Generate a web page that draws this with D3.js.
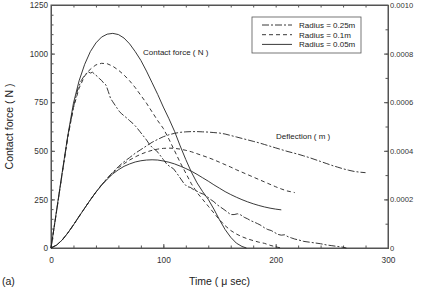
<!DOCTYPE html>
<html>
<head>
<meta charset="utf-8">
<script src="https://cdn.jsdelivr.net/npm/d3@7"></script>
<style>
body { margin: 0; background: #fff; }
svg { display: block; font-family: "Liberation Sans", Arial, sans-serif; }
.axis path, .axis line { stroke: #555; }
.axis text { fill: #333; }
</style>
</head>
<body>
<div id="chart"></div>
<script>
var windowW = 421;
var windowH = 288;

var margin = {top: 5, right: 33, bottom: 40, left: 51};
var w = windowW - margin.left - margin.right;
var h = windowH - margin.top - margin.bottom;

// contact force, N  [time us, force]
var force005 = [[0,0],[5,195],[10,390],[15,580],[20,745],[25,860],[30,945],[35,1010],[40,1055],[45,1085],[50,1100],[55,1104],[60,1098],[65,1080],[70,1050],[75,1010],[80,965],[85,910],[90,850],[95,790],[100,725],[105,665],[110,600],[115,525],[120,455],[125,390],[130,335],[135,290],[140,250],[145,200],[150,145],[155,95],[160,55],[165,25],[170,8],[174,0]];
var force01 = [[0,0],[5,190],[10,385],[15,570],[20,722],[25,822],[30,885],[35,920],[40,942],[45,950],[50,948],[55,935],[60,915],[65,890],[70,860],[75,825],[80,785],[85,745],[90,700],[95,655],[100,615],[105,560],[110,500],[115,440],[120,385],[125,330],[130,285],[135,250],[140,215],[145,180],[150,145],[155,115],[160,90],[165,72],[170,58],[175,47],[180,38],[185,30],[190,24],[195,14],[200,6],[205,0]];
var force025 = [[0,0],[5,190],[10,385],[15,575],[20,725],[24,820],[27,862],[29,880],[31,895],[33,907],[35,900],[37,904],[39,893],[41,884],[43,872],[45,862],[47,848],[49,838],[51,805],[53,770],[55,752],[57,735],[59,718],[61,701],[63,690],[65,680],[68,666],[70,655],[73,640],[76,622],[79,600],[82,578],[85,556],[88,530],[91,512],[94,500],[97,478],[100,455],[103,432],[106,418],[109,408],[112,385],[115,360],[118,335],[121,316],[124,312],[127,300],[130,292],[133,283],[136,276],[139,264],[142,250],[145,238],[148,222],[151,210],[154,198],[157,185],[160,172],[163,172],[166,176],[169,170],[172,158],[175,150],[178,140],[181,133],[184,125],[187,116],[190,104],[193,95],[196,90],[199,80],[202,70],[205,66],[208,68],[211,58],[214,52],[217,46],[220,42],[225,34],[230,30],[235,26],[240,22],[245,16],[250,12],[255,8],[260,4],[263,0]];

// deflection, m  [time us, deflection]
var defl005 = [[0,0],[5,0.000012],[10,0.000033],[15,0.000062],[20,0.000095],[25,0.00013],[30,0.000164],[35,0.000198],[40,0.00023],[45,0.000258],[50,0.000283],[55,0.000305],[60,0.000322],[65,0.000336],[70,0.000346],[75,0.000354],[80,0.000359],[85,0.000362],[90,0.000363],[95,0.000362],[100,0.000358],[105,0.000353],[110,0.000346],[115,0.000337],[120,0.000327],[125,0.000316],[130,0.000303],[135,0.000289],[140,0.000275],[145,0.00026],[150,0.000246],[155,0.000232],[160,0.00022],[165,0.000209],[170,0.000199],[175,0.00019],[180,0.000182],[185,0.000175],[190,0.000169],[195,0.000164],[200,0.00016],[205,0.000157]];
var defl01 = [[0,0],[5,0.000012],[10,0.000033],[15,0.000062],[20,0.000095],[25,0.00013],[30,0.000164],[35,0.000198],[40,0.00023],[45,0.000259],[50,0.000285],[55,0.000309],[60,0.00033],[65,0.000347],[70,0.000362],[75,0.000375],[80,0.000386],[85,0.000395],[90,0.000402],[95,0.000407],[100,0.00041],[105,0.000411],[110,0.00041],[115,0.000407],[120,0.000402],[125,0.000396],[130,0.000388],[135,0.00038],[140,0.000372],[145,0.000363],[150,0.000353],[155,0.000343],[160,0.000333],[165,0.000322],[170,0.000312],[175,0.000302],[180,0.000292],[185,0.000282],[190,0.000272],[195,0.000262],[200,0.000252],[205,0.000243],[210,0.000235],[217,0.000228]];
var defl025 = [[0,0],[5,0.000012],[10,0.000033],[15,0.000062],[20,0.000095],[25,0.00013],[30,0.000164],[35,0.000198],[40,0.00023],[45,0.00026],[50,0.000287],[55,0.000312],[60,0.000335],[65,0.000355],[70,0.000372],[75,0.00039],[80,0.000405],[85,0.00042],[90,0.000435],[95,0.000447],[100,0.000458],[105,0.000466],[110,0.000472],[115,0.000476],[120,0.000478],[125,0.000479],[130,0.000479],[135,0.000478],[140,0.000477],[145,0.000475],[150,0.000473],[155,0.000469],[160,0.000463],[165,0.000457],[170,0.000451],[175,0.000445],[180,0.000439],[185,0.000433],[190,0.000426],[195,0.000419],[200,0.000412],[205,0.000405],[210,0.000398],[215,0.000392],[220,0.000386],[225,0.000379],[230,0.000372],[235,0.000364],[240,0.000356],[245,0.000348],[250,0.00034],[255,0.000333],[260,0.000326],[265,0.00032],[270,0.000315],[275,0.000312],[280,0.00031]];

var xTicks = [0, 100, 200, 300];
var yTicks = [0, 250, 500, 750, 1000, 1250];
var y2Ticks = [0, 0.0002, 0.0004, 0.0006, 0.0008, 0.0010];

var radii = ["Radius = 0.25m", "Radius = 0.1m", "Radius = 0.05m"];
var dashes = {"Radius = 0.25m": "7,2,2,2", "Radius = 0.1m": "4,3", "Radius = 0.05m": null};

var x = d3.scaleLinear().domain([0, 300]).range([0, w]);
var y = d3.scaleLinear().domain([0, 1250]).range([h, 0]);
var y2 = d3.scaleLinear().domain([0, 0.001]).range([h, 0]);

var svg = d3.select("#chart").append("svg")
	.attr("width", windowW)
	.attr("height", windowH);

var g = svg.append("g")
	.attr("transform", "translate(" + margin.left + "," + margin.top + ")");

//////// minor ticks (inward)
g.append("g").attr("class", "axis")
	.call(d3.axisBottom(x).tickValues(d3.range(0, 301, 20)).tickSize(-2.5).tickFormat(""))
	.attr("transform", "translate(0," + h + ")");
g.append("g").attr("class", "axis")
	.call(d3.axisTop(x).tickValues(d3.range(0, 301, 20)).tickSize(-2.5).tickFormat(""));
g.append("g").attr("class", "axis")
	.call(d3.axisLeft(y).tickValues(d3.range(0, 1251, 50)).tickSize(-2.5).tickFormat(""));
g.append("g").attr("class", "axis")
	.attr("transform", "translate(" + w + ",0)")
	.call(d3.axisRight(y2).tickValues(d3.range(0, 11).map(function(d) { return d * 0.0001; })).tickSize(-2.5).tickFormat(""));

//////// major axes
var xAxis = g.append("g").attr("class", "axis")
	.attr("transform", "translate(0," + h + ")")
	.call(d3.axisBottom(x).tickValues(xTicks).tickSizeInner(-4).tickSizeOuter(0).tickPadding(9));
xAxis.selectAll("text").style("font-size", "8.3px");

var yAxis = g.append("g").attr("class", "axis")
	.call(d3.axisLeft(y).tickValues(yTicks).tickSizeInner(-4).tickSizeOuter(0).tickPadding(3)
		.tickFormat(d3.format("d")));
yAxis.selectAll("text").style("font-size", "8.2px");

var y2Axis = g.append("g").attr("class", "axis")
	.attr("transform", "translate(" + w + ",0)")
	.call(d3.axisRight(y2).tickValues(y2Ticks).tickSizeInner(-4).tickSizeOuter(0).tickPadding(2)
		.tickFormat(function(d) { return d === 0 ? "0" : d3.format(".4f")(d); }));
y2Axis.selectAll("text").style("font-size", "7.6px");

g.append("rect")
	.attr("width", w).attr("height", h)
	.attr("fill", "none").attr("stroke", "#555").attr("stroke-width", 1);

//////// curves
var lineF = d3.line().x(function(d) { return x(d[0]); }).y(function(d) { return y(d[1]); });
var lineD = d3.line().x(function(d) { return x(d[0]); }).y(function(d) { return y2(d[1]); });

var curves = [
	{data: force025, line: lineF, r: radii[0]},
	{data: force01, line: lineF, r: radii[1]},
	{data: force005, line: lineF, r: radii[2]},
	{data: defl025, line: lineD, r: radii[0]},
	{data: defl01, line: lineD, r: radii[1]},
	{data: defl005, line: lineD, r: radii[2]}
];

curves.forEach(function(c) {
	g.append("path")
		.attr("d", c.line(c.data))
		.attr("fill", "none")
		.attr("stroke", "#222")
		.attr("stroke-width", 0.9)
		.attr("stroke-dasharray", dashes[c.r]);
});

//////// annotations
g.append("text").attr("x", 92).attr("y", 50).style("font-size", "8px").attr("fill", "#222")
	.text("Contact force ( N )");
g.append("text").attr("x", 225).attr("y", 134).style("font-size", "8px").attr("fill", "#222")
	.text("Deflection ( m )");

//////// legend
var legend = g.append("g").attr("transform", "translate(201,12)");
legend.append("rect")
	.attr("width", 109).attr("height", 36)
	.attr("fill", "#fff").attr("stroke", "#555").attr("stroke-width", 0.8);
radii.forEach(function(r, i) {
	var ly = 8 + i * 9.7;
	legend.append("line")
		.attr("x1", 10).attr("x2", 40).attr("y1", ly).attr("y2", ly)
		.attr("stroke", "#222").attr("stroke-width", 0.9)
		.attr("stroke-dasharray", dashes[r]);
	legend.append("text")
		.attr("x", 47).attr("y", ly + 3)
		.style("font-size", "8px").attr("fill", "#222")
		.text(r);
});

//////// axis titles
svg.append("text")
	.attr("x", margin.left + w / 2).attr("y", 285)
	.attr("text-anchor", "middle")
	.style("font-size", "10.5px").attr("fill", "#222")
	.text("Time ( \u03bc sec)");

svg.append("text")
	.attr("transform", "translate(13," + (margin.top + h / 2) + ") rotate(-90)")
	.attr("text-anchor", "middle")
	.style("font-size", "10.5px").attr("fill", "#222")
	.text("Contact force ( N )");

svg.append("text")
	.attr("x", 2).attr("y", 285)
	.style("font-size", "10.5px").attr("fill", "#222")
	.text("(a)");
</script>
</body>
</html>
